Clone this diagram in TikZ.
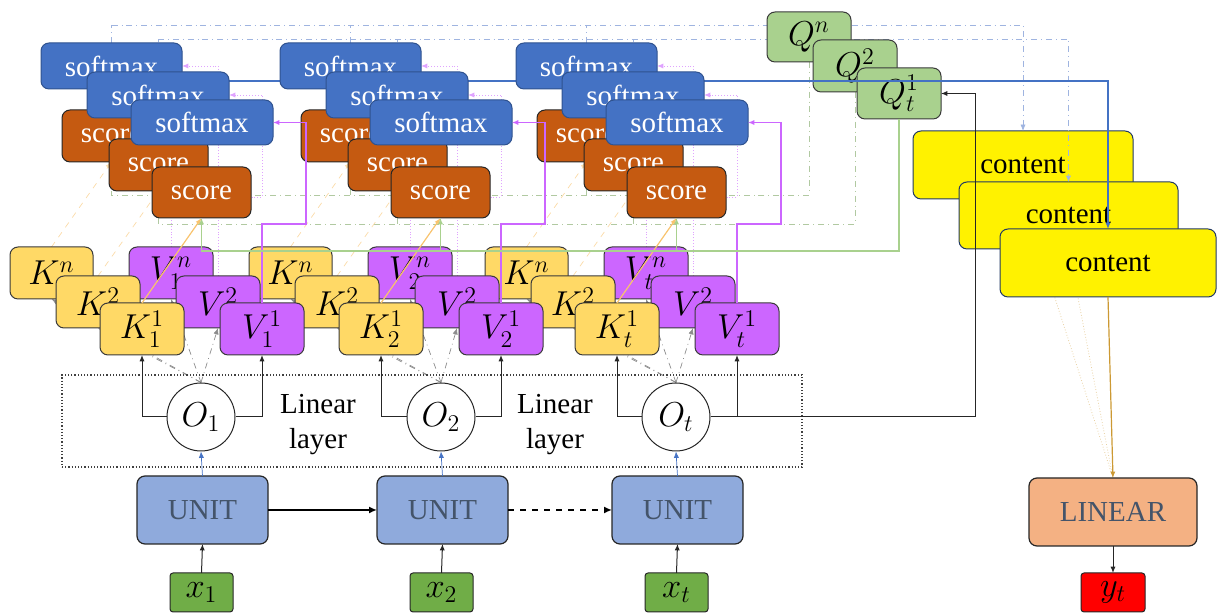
\documentclass[tikz,border=0pt]{standalone}
\usepackage{fontspec}
\setmainfont{Liberation Serif}
\usetikzlibrary{arrows.meta}

\definecolor{smblue}{HTML}{4472C4}
\definecolor{smedge}{HTML}{2F528F}
\definecolor{scorecol}{HTML}{C55A11}
\definecolor{kcol}{HTML}{FFD966}
\definecolor{vcol}{HTML}{CC66FF}
\definecolor{qcol}{HTML}{A9D18E}
\definecolor{unitcol}{HTML}{8FAADC}
\definecolor{lincol}{HTML}{F4B183}
\definecolor{xcol}{HTML}{70AD47}
\definecolor{labgray}{HTML}{44546A}
\definecolor{orln}{HTML}{F8C36E}
\definecolor{goldln}{HTML}{CC9933}
\definecolor{edgegray}{HTML}{3A3A3A}
\definecolor{faintblue}{HTML}{9FB4E0}

\pgfdeclarelayer{deep}
\pgfdeclarelayer{cont}
\pgfdeclarelayer{fl}
\pgfdeclarelayer{qq}
\pgfdeclarelayer{bl}
\pgfdeclarelayer{top}
\pgfsetlayers{deep,cont,fl,qq,bl,main,top}

% box from corner (x1,y1) to (x2,y2), in pixel units
\newcommand\bx[7]{%
  \pgfmathsetmacro\bxw{((#4)-(#2))*0.5}%
  \pgfmathsetmacro\bxh{((#5)-(#3))*0.5}%
  \pgfmathsetmacro\bxx{((#2)+(#4))/2}%
  \pgfmathsetmacro\bxy{((#3)+(#5))/2}%
  \node[#6, minimum width=\bxw pt, minimum height=\bxh pt] (#1) at (\bxx,\bxy) {#7};}

\begin{document}
\begin{tikzpicture}[x=0.5pt,y=-0.5pt,
  box/.style={draw, rounded corners=4pt, line width=0.5pt, inner sep=0pt, outer sep=0pt},
  txt/.style={font=\fontsize{14.5}{17.5}\selectfont},
  mth/.style={font=\fontsize{17.5}{20}\selectfont},
  smbox/.style={box, fill=smblue, draw=smedge, text=white, txt},
  scbox/.style={box, fill=scorecol, draw=black!85, text=white, txt},
  kbox/.style={box, fill=kcol, draw=edgegray, mth},
  vbox/.style={box, fill=vcol, draw=edgegray, mth},
  qbox/.style={box, fill=qcol, draw=edgegray, mth},
  cbox/.style={box, fill=yellow, draw=smedge!70!black, txt},
  ubox/.style={box, fill=unitcol, draw=black!85, text=labgray, txt, line width=0.6pt},
  linbox/.style={box, fill=lincol, draw=black!85, text=labgray, txt, line width=0.6pt},
  xbox/.style={box, rounded corners=1.5pt, fill=xcol, draw=black!85, mth},
  ybox/.style={box, rounded corners=1.5pt, fill=red, draw=black!85, mth},
  ocirc/.style={circle, draw=black!85, fill=white, line width=0.5pt, minimum size=34pt, inner sep=0pt, font=\fontsize{17.5}{20}\selectfont},
  dotrect/.style={draw=black!75, densely dotted, line width=0.6pt, inner sep=0pt, outer sep=0pt},
  tip/.style={-{Latex[length=3.2pt,width=2.6pt]}},
  fbl/.style={draw=faintblue, dash dot, line width=0.4pt},
  fgr/.style={draw=qcol!85!black!70, dash dot, line width=0.35pt},
  fpu/.style={draw=vcol!60, densely dotted, line width=0.45pt},
  fora/.style={draw=orln!60, dashed, line width=0.35pt},
  fgy/.style={draw=black!45, dash dot, line width=0.35pt},
  fgold/.style={draw=goldln!45, densely dotted, line width=0.4pt},
  blueln/.style={draw=smblue, line width=0.6pt},
  purln/.style={draw=vcol, line width=0.7pt},
  grnln/.style={draw=qcol, line width=0.6pt},
  oraln/.style={draw=orln, line width=0.6pt},
  goldline/.style={draw=goldln, line width=0.6pt},
  bk/.style={draw=black!85, line width=0.5pt},
  ublue/.style={draw=smblue, line width=0.35pt},
]
\useasboundingbox (0,0) rectangle (1217,613);

% horizontal routing levels
\coordinate (L25) at (0,25);
\coordinate (L39) at (0,39);
\coordinate (L81) at (0,81);
\coordinate (L195) at (0,195);
\coordinate (L224) at (0,224);
\coordinate (L251) at (0,251);
\coordinate (bend) at (975,417);

% ---------- content column ----------
\begin{pgfonlayer}{cont}
\bx{cB}{913}{131}{1133}{199}{cbox}{content}
\bx{cM}{959}{182}{1178}{249}{cbox}{content}
\bx{cF}{1000}{229}{1216}{297}{cbox}{content}
\end{pgfonlayer}

% ---------- query stack ----------
\begin{pgfonlayer}{qq}
\bx{Qn}{767}{12}{851}{62}{qbox}{$Q^{n}$}
\bx{Q2}{813}{40}{897}{92}{qbox}{$Q^{2}$}
\bx{Q1}{857}{68}{941}{119}{qbox}{$Q^{1}_{t}$}
\end{pgfonlayer}

% ---------- score / softmax stacks ----------
\foreach \g/\d in {a/0,b/239,c/475}{\bx{scB\g}{62+\d}{110}{161+\d}{162}{scbox}{score}}
\foreach \g/\d in {a/0,b/239,c/475}{\bx{scM\g}{109+\d}{139}{208+\d}{191}{scbox}{score}}
\foreach \g/\d in {a/0,b/239,c/475}{\bx{scF\g}{152+\d}{167}{251+\d}{218}{scbox}{score}}
\foreach \g/\d in {a/0,b/239,c/475}{\bx{smB\g}{41+\d}{43}{182+\d}{89}{smbox}{softmax}}
\foreach \g/\d in {a/0,b/239,c/475}{\bx{smM\g}{87+\d}{72}{229+\d}{118}{smbox}{softmax}}
\foreach \g/\d in {a/0,b/239,c/475}{\bx{smF\g}{131+\d}{100}{273+\d}{145}{smbox}{softmax}}

% ---------- key / value stacks ----------
\foreach \g/\d/\s in {a/0/1,b/239/2,c/475/t}{%
  \bx{Kn\g}{10+\d}{247}{93+\d}{299}{kbox}{$K^{n}$}
  \bx{Vn\g}{129+\d}{247}{213+\d}{299}{vbox}{$V^{n}_{\s}$}}
\foreach \g/\d in {a/0,b/239,c/475}{%
  \bx{K2\g}{56+\d}{276}{140+\d}{328}{kbox}{$K^{2}$}
  \bx{V2\g}{176+\d}{276}{260+\d}{328}{vbox}{$V^{2}$}}
\foreach \g/\d/\s in {a/0/1,b/239/2,c/475/t}{%
  \bx{K1\g}{100+\d}{303}{184+\d}{355}{kbox}{$K^{1}_{\s}$}
  \bx{V1\g}{220+\d}{303}{304+\d}{355}{vbox}{$V^{1}_{\s}$}}

% ---------- linear layer, units, inputs ----------
\bx{LL}{62}{375}{802}{467}{dotrect}{}
\node[txt, align=center] (LLa) at (318,425) {Linear\\layer};
\node[txt, align=center] (LLb) at (555,425) {Linear\\layer};
\foreach \g/\d/\s in {a/0/1,b/240/2,c/475/t}{%
  \node[ocirc] (O\g) at (201+\d,417) {$O_{\s}$};
  \bx{U\g}{137+\d}{476}{268+\d}{544}{ubox}{UNIT}
  \bx{X\g}{170+\d}{573}{233+\d}{612}{xbox}{$x_{\s}$}}
\bx{LIN}{1029}{478}{1197}{546}{linbox}{LINEAR}
\bx{Y}{1081}{573}{1145}{612}{ybox}{$y_{t}$}

% ---------- faint routing under the boxes ----------
\begin{pgfonlayer}{deep}
\draw[fgold] (cB.south) -- (LIN.north);
\draw[fgold] (cM.south) -- (LIN.north);
\end{pgfonlayer}

\begin{pgfonlayer}{fl}
\foreach \g in {a,b,c}{\draw[fbl] (smB\g.north) -- (smB\g.north |- L25);}
\draw[fbl,tip] (smBa.north |- L25) -| (cB.north);
\foreach \g in {a,b,c}{\draw[fbl] (smM\g.north) -- (smM\g.north |- L39);}
\draw[fbl,tip] (smMa.north |- L39) -| (cM.north);
\draw[fgr,tip] (Qn.south) |- (scBa.south |- L195) -- (scBa.south);
\draw[fgr,tip] (Q2.south) |- (scMa.south |- L224) -- (scMa.south);
\foreach \g in {b,c}{%
  \draw[fgr,tip] (scB\g.south |- L195) -- (scB\g.south);
  \draw[fgr,tip] (scM\g.south |- L224) -- (scM\g.south);}
\foreach \g/\d in {a/0,b/239,c/475}{%
  \draw[fpu,tip] (V2\g.north) |- (smB\g.east);
  \draw[fpu,tip] (Vn\g.north) |- (262+\d,197) |- (smM\g.east);
  \draw[fora,tip] (Kn\g.north) -- (scB\g.south);
  \draw[fora,tip] (K2\g.north) -- (scM\g.south);
  \draw[fgy,tip] (O\g.north) -- (Kn\g.south);
  \draw[fgy,tip] (O\g.north) -- (K2\g.south);
  \draw[fgy,tip] (O\g.north) -- (Vn\g.south);
  \draw[fgy,tip] (O\g.north) -- (V2\g.south);}
\end{pgfonlayer}

\begin{pgfonlayer}{bl}
\foreach \g in {a,b,c}{\draw[blueln] (smF\g.north) -- (smF\g.north |- L81);}
\draw[blueln,tip] (smFa.north |- L81) -| (cF.north);
\end{pgfonlayer}

% ---------- connectors drawn over the boxes ----------
\begin{pgfonlayer}{top}
\foreach \g/\d in {a/0,b/239,c/475}{%
  \draw[purln,tip] (V1\g.north) |- (306+\d,224) |- (smF\g.east);
  \draw[oraln,tip] (K1\g.north) -- (scF\g.south);
  \draw[bk,tip] (O\g.west) -| (K1\g.south);
  \draw[bk,tip] (O\g.east) -| (V1\g.south);
  \draw[ublue,tip] (U\g.north) -- (O\g.south);
  \draw[bk,tip] (X\g.north) -- (U\g.south);}
\draw[grnln,tip] (Q1.south) |- (scFa.south |- L251) -- (scFa.south);
\foreach \g in {b,c}{\draw[grnln,tip] (scF\g.south |- L251) -- (scF\g.south);}
\draw[bk,tip] (Oc.east) -- (bend) |- (Q1.east);
\draw[draw=black, line width=1pt, -{Latex[length=4pt,width=3.5pt]}] (Ua.east) -- (Ub.west);
\draw[draw=black, line width=1pt, dashed, -{Latex[length=4pt,width=3.5pt]}] (Ub.east) -- (Uc.west);
\draw[goldline,tip] (cF.south) -- (LIN.north);
\draw[bk,tip] (LIN.south) -- (Y.north);
\end{pgfonlayer}
\end{tikzpicture}
\end{document}
